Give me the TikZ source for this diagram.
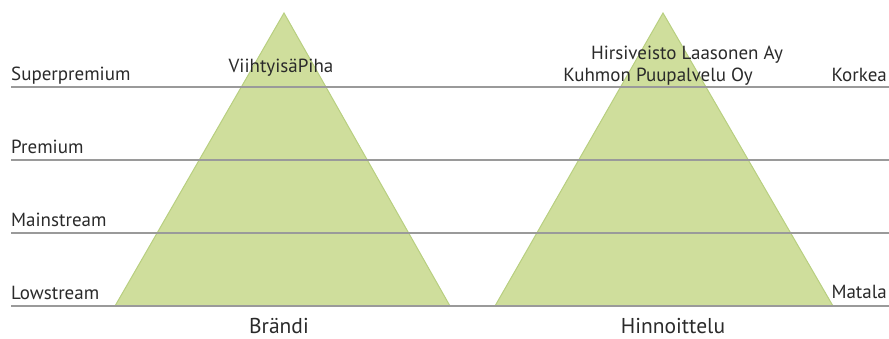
\documentclass[tikz,border=0pt]{standalone}
\usepackage{fontspec}
\setmainfont{PT Sans}
\definecolor{tri}{HTML}{CFDE9C}
\definecolor{triedge}{HTML}{B8CF80}
\definecolor{rule}{HTML}{9A9A9A}
\definecolor{txt}{HTML}{2A2A2A}
\begin{document}
\begin{tikzpicture}[x=1pt,y=-1pt,
  pyr/.style={fill=tri,draw=triedge,line width=1pt,line join=miter},
  level/.style={draw=rule,line width=2.5pt},
  lab/.style={font=\fontsize{19}{19}\selectfont,text=txt,inner sep=0pt},
  axis/.style={font=\fontsize{21.5}{21.5}\selectfont,text=txt,inner sep=0pt}]
\useasboundingbox (0,0) rectangle (889,338);
% triangles
\coordinate (a1) at (284,13);
\coordinate (l1) at (115,306);
\coordinate (r1) at (450,306);
\coordinate (a2) at (663,13);
\coordinate (l2) at (495,306);
\coordinate (r2) at (833,306);
\draw[pyr] (a1) -- (l1) -- (r1) -- cycle;
\draw[pyr] (a2) -- (l2) -- (r2) -- cycle;
% level lines
\foreach \y/\n in {87/s,160/p,233/m,306/l}{
  \coordinate (\n L) at (11,\y);
  \coordinate (\n R) at (889,\y);
  \draw[level] (\n L) -- (\n R);
}
% labels
\node[lab,anchor=base west] (sup) at (11,80) {Superpremium};
\node[lab,anchor=base west] (pre) at (11,153) {Premium};
\node[lab,anchor=base west] (mai) at (11,226) {Mainstream};
\node[lab,anchor=base west] (low) at (11,299) {Lowstream};
\node[lab,anchor=base] (vp) at (281,72) {ViihtyisäPiha};
\node[lab,anchor=base] (hl) at (687,59) {Hirsiveisto Laasonen Ay};
\node[lab,anchor=base] (kp) at (658,81) {Kuhmon Puupalvelu Oy};
\node[lab,anchor=base east] (kor) at (887,81) {Korkea};
\node[lab,anchor=base east] (mat) at (887,298) {Matala};
\node[axis,anchor=base] (br) at (279,333) {Brändi};
\node[axis,anchor=base] (hi) at (673,333) {Hinnoittelu};
\end{tikzpicture}
\end{document}
